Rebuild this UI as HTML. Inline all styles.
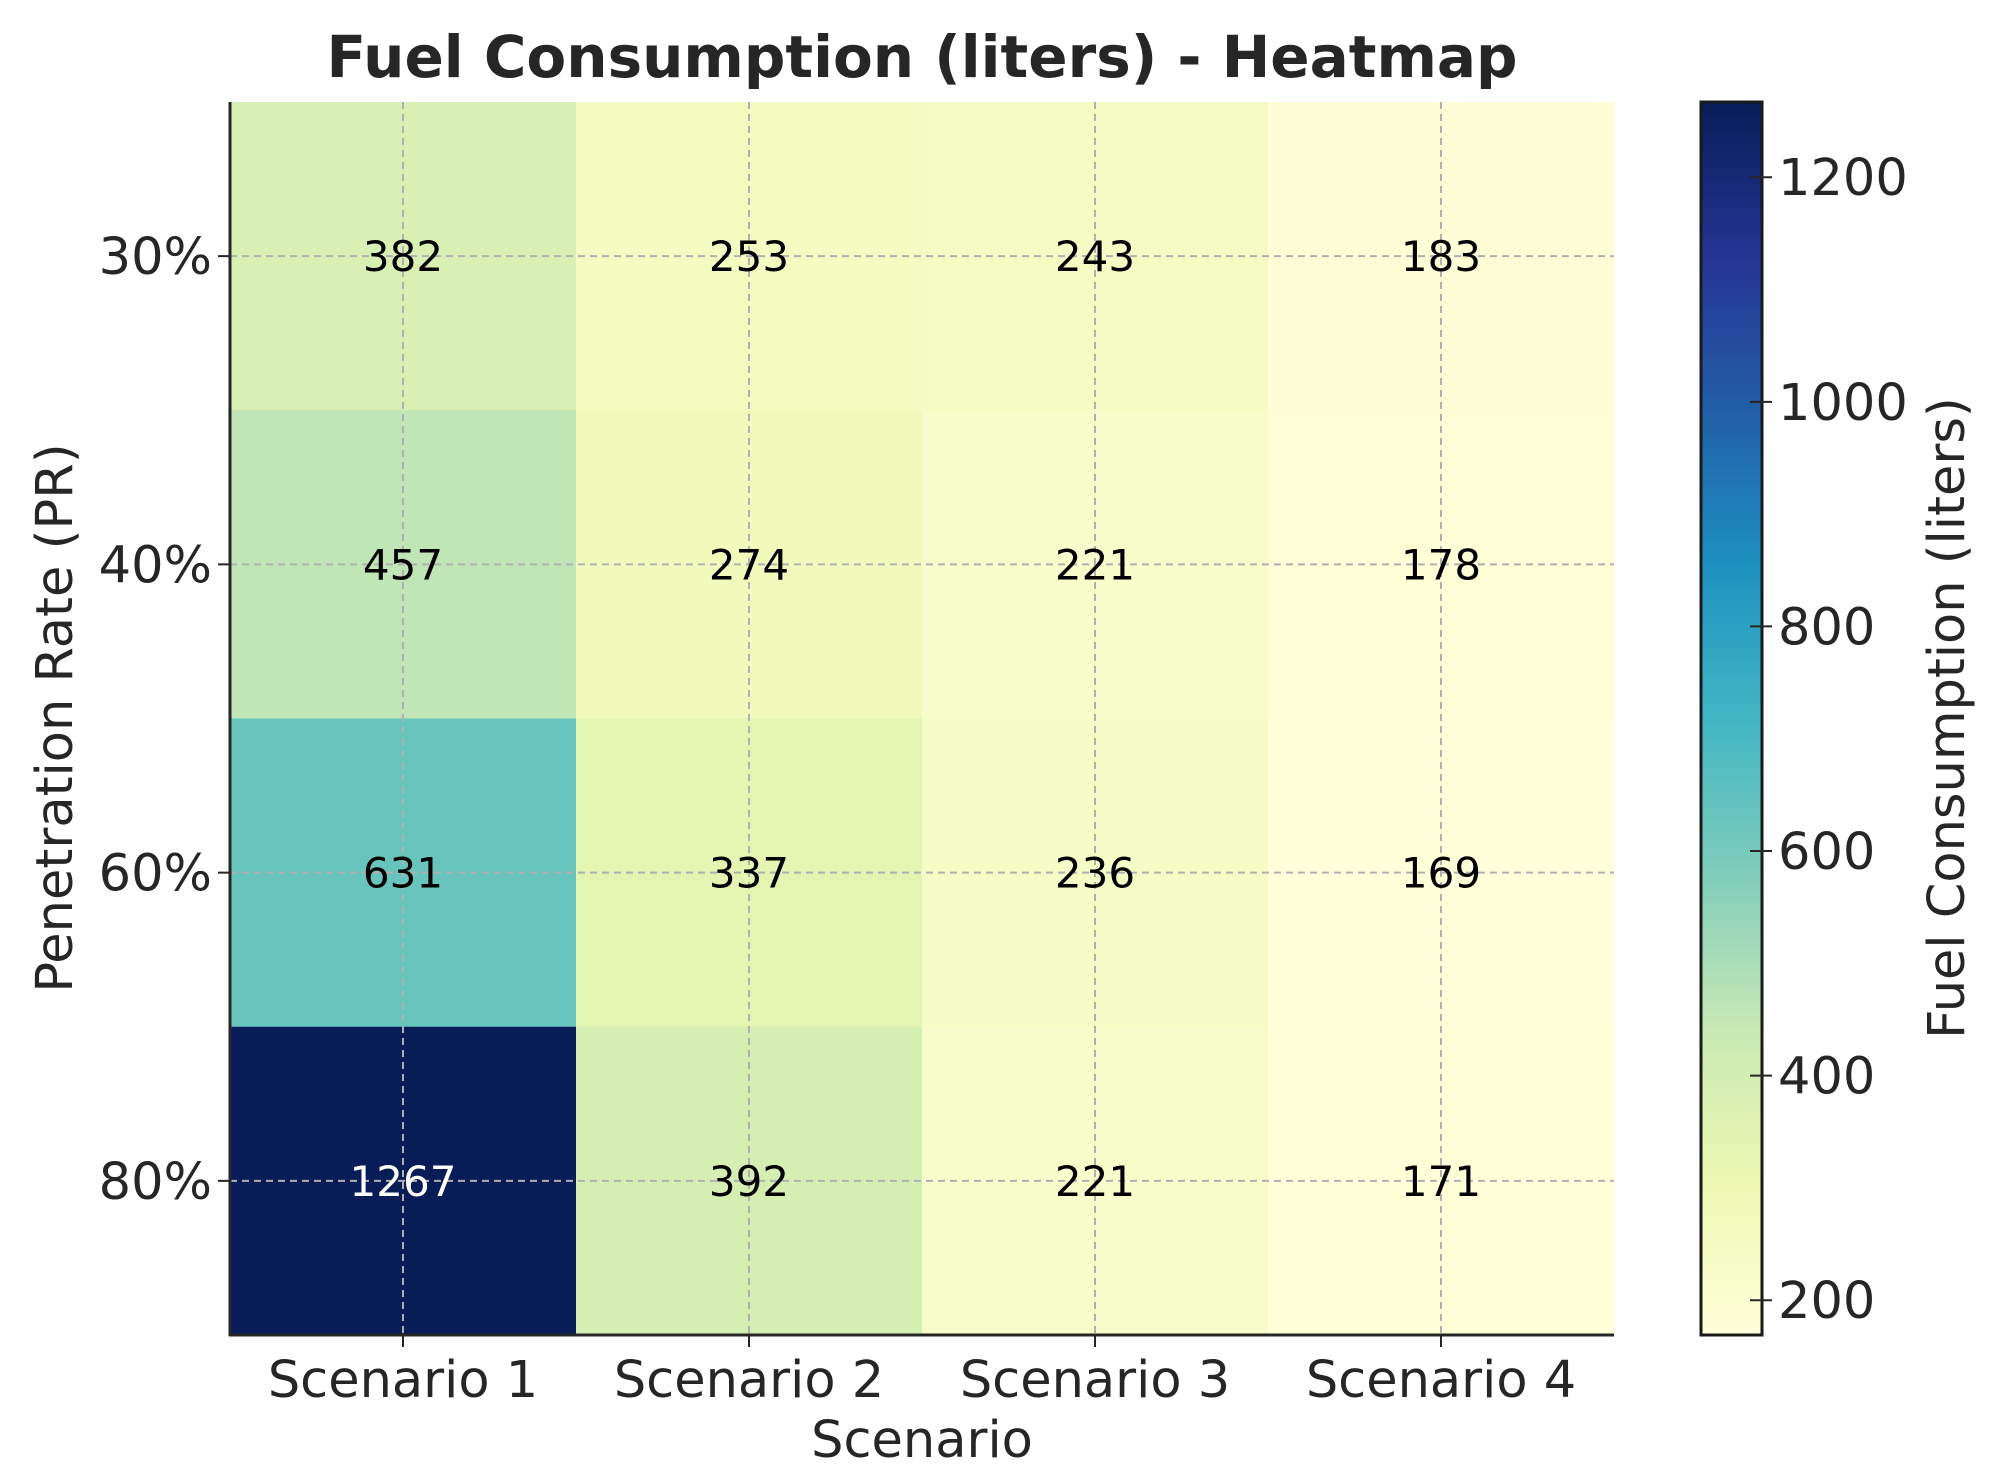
<!DOCTYPE html>
<html><head><meta charset="utf-8"><style>
html,body{margin:0;padding:0;background:#fff;}
svg{display:block;font-family:"DejaVu Sans","Liberation Sans",sans-serif;}
</style></head><body>
<svg id="chart" width="1993" height="1477" viewBox="0 0 1993 1477">
<text x="922" y="77" text-anchor="middle" font-size="58" font-weight="bold" fill="#262626">Fuel Consumption (liters) - Heatmap</text>
<g id="cells"></g>
<g id="grid"></g>
<g id="labels"></g>
<g id="axes"></g>
<defs><linearGradient id="cbgrad" x1="0" y1="1" x2="0" y2="0"></linearGradient></defs>
<g id="cbar"></g>
<text x="922" y="1457" text-anchor="middle" font-size="51" fill="#262626">Scenario</text>
<text transform="translate(72,718) rotate(-90)" text-anchor="middle" font-size="51" fill="#262626">Penetration Rate (PR)</text>
<text transform="translate(1964,718) rotate(-90)" text-anchor="middle" font-size="51" fill="#262626">Fuel Consumption (liters)</text>
</svg>
<script>
const scenarios = ["Scenario 1","Scenario 2","Scenario 3","Scenario 4"];
const rates = ["30%","40%","60%","80%"];
const row30 = [382,253,243,183];
const row40 = [457,274,221,178];
const row60 = [631,337,236,169];
const row80 = [1267,392,221,171];
const cbTicks = [200,400,600,800,1000,1200];

const values = [row30,row40,row60,row80];
const NS = "http://www.w3.org/2000/svg";
const L=230,R=1614,T=102,B=1335;
const cw=(R-L)/scenarios.length, ch=(B-T)/rates.length;
const all=values.flat();
const vmin=Math.min(...all), vmax=Math.max(...all);
const stops=["#ffffd9","#edf8b1","#c7e9b4","#7fcdbb","#41b6c4","#1d91c0","#225ea8","#253494","#081d58"];
function hex(h){return [1,3,5].map(i=>parseInt(h.substr(i,2),16));}
function cmap(t){t=Math.max(0,Math.min(1,t));const p=t*(stops.length-1);const i=Math.min(Math.floor(p),stops.length-2);const f=p-i;const a=hex(stops[i]),b=hex(stops[i+1]);return "rgb("+a.map((v,k)=>Math.round(v+(b[k]-v)*f)).join(",")+")";}
const xc=i=>L+cw*(i+0.5), yc=j=>T+ch*(j+0.5);
function mk(tag,attrs,parent){const e=document.createElementNS(NS,tag);for(const k in attrs)e.setAttribute(k,attrs[k]);parent.appendChild(e);return e;}
const cells=document.getElementById("cells"),grid=document.getElementById("grid"),labels=document.getElementById("labels"),axes=document.getElementById("axes"),cbar=document.getElementById("cbar");
values.forEach((row,j)=>row.forEach((v,i)=>{
  const t=(v-vmin)/(vmax-vmin);
  const r=mk("rect",{x:L+cw*i,y:T+ch*j,width:cw+0.5,height:ch+0.5,fill:cmap(t)},cells);
  
  
}));
scenarios.forEach((s,i)=>{
  const g=mk("line",{x1:xc(i),x2:xc(i),y1:T,y2:B,stroke:"#b0b0b0","stroke-width":2,"stroke-dasharray":"7,5"},grid);
  
  
  mk("line",{x1:xc(i),x2:xc(i),y1:B,y2:B+12,stroke:"#262626","stroke-width":2},axes);
  const t=mk("text",{x:xc(i),y:B+62,"text-anchor":"middle","font-size":51,fill:"#262626"},axes);
  t.textContent=s;
  
  
});
rates.forEach((r,j)=>{
  const g=mk("line",{x1:L,x2:R,y1:yc(j),y2:yc(j),stroke:"#b0b0b0","stroke-width":2,"stroke-dasharray":"7,5"},grid);
  
  
  mk("line",{x1:L-12,x2:L,y1:yc(j),y2:yc(j),stroke:"#262626","stroke-width":2},axes);
  const t=mk("text",{x:L-18,y:yc(j)+18,"text-anchor":"end","font-size":51,fill:"#262626"},axes);
  t.textContent=r;
  
  
});
values.forEach((row,j)=>row.forEach((v,i)=>{
  const t=(v-vmin)/(vmax-vmin);
  const e=mk("text",{x:xc(i),y:yc(j)+15,"text-anchor":"middle","font-size":42,fill:t>0.5?"#ffffff":"#000000"},labels);
  e.textContent=v;
  
  
}));
mk("line",{x1:L,x2:L,y1:T,y2:B+1,stroke:"#262626","stroke-width":3},axes);
mk("line",{x1:L-1,x2:R,y1:B,y2:B,stroke:"#262626","stroke-width":3},axes);
const grad=document.getElementById("cbgrad");
stops.forEach((c,k)=>mk("stop",{offset:k/(stops.length-1),"stop-color":c},grad));
const CX=1701,CW=61;
const cb=mk("rect",{x:CX,y:T,width:CW,height:B-T,fill:"url(#cbgrad)",stroke:"#1a1a1a","stroke-width":3},cbar);


const cy=v=>B-(v-vmin)/(vmax-vmin)*(B-T);
cbTicks.forEach(v=>{
  mk("line",{x1:CX+CW-12,x2:CX+CW+10,y1:cy(v),y2:cy(v),stroke:"#262626","stroke-width":2},cbar);
  const t=mk("text",{x:CX+CW+16,y:cy(v)+18,"font-size":51,fill:"#262626"},cbar);
  t.textContent=v;
  
  
});
</script>
</body></html>
